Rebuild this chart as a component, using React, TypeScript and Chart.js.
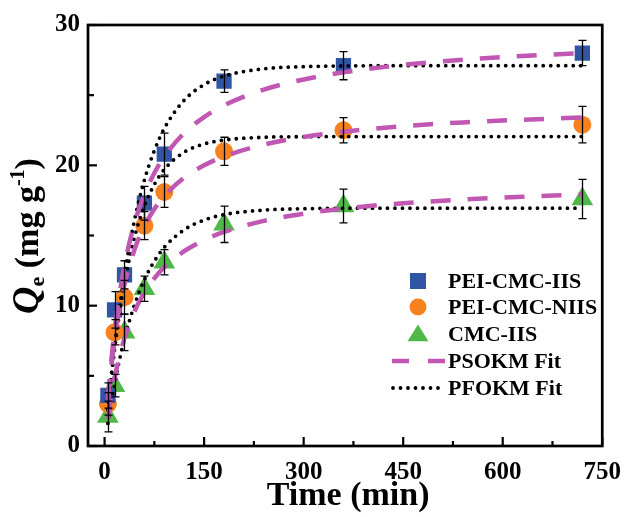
import React, { useEffect, useRef } from 'react';
import { Chart, registerables } from 'chart.js';

Chart.register(...registerables);

// ---- data ----
const times = [5, 15, 30, 60, 90, 180, 360, 720];
const peiIIS = [3.6, 9.7, 12.2, 17.3, 20.8, 26.0, 27.1, 28.0];
const peiIISErr = [0.9, 1.3, 1.0, 1.2, 1.5, 0.8, 1.0, 0.9];
const peiNIIS = [3.0, 8.1, 10.6, 15.7, 18.1, 21.0, 22.5, 22.9];
const peiNIISErr = [0.8, 0.9, 1.2, 1.0, 1.1, 1.0, 0.9, 1.3];
const cmcIIS = [2.1, 4.3, 8.1, 11.2, 13.1, 15.8, 17.1, 17.6];
const cmcIISErr = [1.1, 0.8, 1.3, 0.9, 0.9, 1.3, 1.2, 1.4];

const fitTimes = [5, 10, 15, 20, 30, 45, 60, 75, 90, 120, 150, 180, 240, 300, 360, 450, 540, 630, 720];
const psoIIS = [3.37, 6.05, 8.23, 10.04, 12.87, 15.85, 17.92, 19.45, 20.62, 22.3, 23.44, 24.27, 25.4, 26.12, 26.63, 27.16, 27.53, 27.79, 27.99];
const psoNIIS = [3.16, 5.6, 7.53, 9.11, 11.52, 13.99, 15.67, 16.89, 17.81, 19.12, 20.0, 20.63, 21.48, 22.02, 22.4, 22.79, 23.06, 23.25, 23.41];
const psoCMC = [1.93, 3.5, 4.81, 5.91, 7.68, 9.58, 10.94, 11.95, 12.74, 13.88, 14.67, 15.25, 16.04, 16.56, 16.92, 17.3, 17.56, 17.76, 17.92];
const pfoIIS = [2.58, 4.91, 7.02, 8.93, 12.23, 16.08, 18.95, 21.05, 22.63, 24.64, 25.75, 26.36, 26.88, 27.03, 27.08, 27.1, 27.1, 27.1, 27.1];
const pfoNIIS = [2.58, 4.86, 6.88, 8.64, 11.6, 14.86, 17.11, 18.64, 19.71, 20.94, 21.52, 21.8, 22.0, 22.04, 22.05, 22.05, 22.05, 22.05, 22.05];
const pfoCMC = [1.61, 3.07, 4.39, 5.59, 7.65, 10.05, 11.85, 13.17, 14.16, 15.41, 16.1, 16.49, 16.81, 16.91, 16.94, 16.95, 16.95, 16.95, 16.95];

const xTicks = [0, 150, 300, 450, 600, 750];
const xMinorTicks = [75, 225, 375, 525, 675];
const yTicks = [0, 10, 20, 30];
const yMinorTicks = [5, 15, 25];

const legendLabels = ['PEI-CMC-IIS', 'PEI-CMC-NIIS', 'CMC-IIS', 'PSOKM Fit', 'PFOKM Fit'];
const xTitle = 'Time (min)';

// ---- styles ----
const BLUE = '#2f55a4';
const ORANGE = '#f5821f';
const GREEN = '#4fb848';
const MAGENTA = '#c057b2';
const SERIF = '"Liberation Serif", "Times New Roman", serif';

const pts = (xs: number[], ys: number[]) => xs.map((x, i) => ({ x, y: ys[i] }));

const errSeries = [
  { v: peiIIS, e: peiIISErr },
  { v: peiNIIS, e: peiNIISErr },
  { v: cmcIIS, e: cmcIISErr },
];

function drawMarker(ctx: CanvasRenderingContext2D, kind: string, x: number, y: number, s: number, color: string) {
  ctx.fillStyle = color;
  ctx.beginPath();
  if (kind === 'rect') {
    ctx.rect(x - s / 2, y - s / 2, s, s);
  } else if (kind === 'circle') {
    ctx.arc(x, y, s / 2, 0, Math.PI * 2);
  } else {
    ctx.moveTo(x, y - s * 0.45);
    ctx.lineTo(x + s / 2, y + s * 0.35);
    ctx.lineTo(x - s / 2, y + s * 0.35);
    ctx.closePath();
  }
  ctx.fill();
}

const decorPlugin = {
  id: 'decor',
  afterDatasetsDraw(chart: any) {
    const { ctx, chartArea: a, scales } = chart;
    const xs = scales.x;
    const ys = scales.y;
    ctx.save();
    // error bars
    ctx.strokeStyle = '#000';
    ctx.lineWidth = 1.3;
    errSeries.forEach((s) => {
      s.v.forEach((v, i) => {
        const px = Math.round(xs.getPixelForValue(times[i])) + 0.5;
        const t = ys.getPixelForValue(v + s.e[i]);
        const b = ys.getPixelForValue(v - s.e[i]);
        ctx.beginPath();
        ctx.moveTo(px, t);
        ctx.lineTo(px, b);
        ctx.moveTo(px - 4, t);
        ctx.lineTo(px + 4, t);
        ctx.moveTo(px - 4, b);
        ctx.lineTo(px + 4, b);
        ctx.stroke();
      });
    });
    // frame
    ctx.lineWidth = 2.7;
    ctx.strokeStyle = '#000';
    ctx.strokeRect(a.left, a.top, a.right - a.left, a.bottom - a.top);
    // inward ticks
    ctx.lineWidth = 2.2;
    const tick = (vals: number[], len: number) => {
      vals.forEach((v) => {
        const px = xs.getPixelForValue(v);
        ctx.beginPath();
        ctx.moveTo(px, a.bottom);
        ctx.lineTo(px, a.bottom - len);
        ctx.stroke();
      });
    };
    const ytick = (vals: number[], len: number) => {
      vals.forEach((v) => {
        const py = ys.getPixelForValue(v);
        ctx.beginPath();
        ctx.moveTo(a.left, py);
        ctx.lineTo(a.left + len, py);
        ctx.stroke();
      });
    };
    tick(xTicks, 9);
    tick(xMinorTicks, 5);
    ytick(yTicks, 9);
    ytick(yMinorTicks, 6);

    // legend
    const rows = [281, 307, 334, 361, 388];
    const mx = 418;
    drawMarker(ctx, 'rect', mx, rows[0], 16, BLUE);
    drawMarker(ctx, 'circle', mx, rows[1], 17, ORANGE);
    drawMarker(ctx, 'tri', mx, rows[2], 21, GREEN);
    ctx.lineWidth = 4.5;
    ctx.strokeStyle = MAGENTA;
    ctx.setLineDash([17, 19]);
    ctx.beginPath();
    ctx.moveTo(392, rows[3]);
    ctx.lineTo(445, rows[3]);
    ctx.stroke();
    ctx.strokeStyle = '#000';
    ctx.lineWidth = 3.8;
    ctx.lineCap = 'round';
    ctx.setLineDash([0, 7.5]);
    ctx.beginPath();
    ctx.moveTo(393, rows[4]);
    ctx.lineTo(443, rows[4]);
    ctx.stroke();
    ctx.setLineDash([]);
    ctx.lineCap = 'butt';
    ctx.fillStyle = '#000';
    ctx.font = `bold 22px ${SERIF}`;
    ctx.textBaseline = 'middle';
    ctx.textAlign = 'left';
    legendLabels.forEach((l, i) => ctx.fillText(l, 448, rows[i] + 1));

    // x title
    ctx.font = `bold 34px ${SERIF}`;
    ctx.textAlign = 'center';
    ctx.textBaseline = 'alphabetic';
    ctx.fillText(xTitle, (a.left + a.right) / 2 + 3, 505);

    // y title (rotated)
    ctx.translate(38, 236);
    ctx.rotate(-Math.PI / 2);
    const parts = [
      { t: 'Q', f: `italic bold 38px ${SERIF}`, dy: 0 },
      { t: 'e', f: `bold 22px ${SERIF}`, dy: 6 },
      { t: ' (mg g', f: `bold 34px ${SERIF}`, dy: 0 },
      { t: '-1', f: `bold 20px ${SERIF}`, dy: -14 },
      { t: ')', f: `bold 34px ${SERIF}`, dy: 0 },
    ];
    let total = 0;
    parts.forEach((p) => {
      ctx.font = p.f;
      total += ctx.measureText(p.t).width;
    });
    let cx = -total / 2;
    ctx.textAlign = 'left';
    parts.forEach((p) => {
      ctx.font = p.f;
      ctx.fillText(p.t, cx, p.dy);
      cx += ctx.measureText(p.t).width;
    });
    ctx.restore();
  },
};

export default function App() {
  const ref = useRef<HTMLCanvasElement | null>(null);
  useEffect(() => {
    if (!ref.current) return;
    const lineBase = {
      showLine: true,
      pointRadius: 0,
      pointHoverRadius: 0,
      fill: false,
      cubicInterpolationMode: 'monotone' as const,
      order: 1,
    };
    const pso = { ...lineBase, borderColor: MAGENTA, borderWidth: 4.5, borderDash: [20, 17] };
    const pfo = { ...lineBase, borderColor: '#000', borderWidth: 3.8, borderDash: [0, 7.5], borderCapStyle: 'round' as const };
    const mark = (data: any, style: string, r: number, color: string) => ({
      data,
      pointStyle: style,
      pointRadius: r,
      pointHoverRadius: r,
      backgroundColor: color,
      borderColor: color,
      borderWidth: 0,
      showLine: false,
      order: 3,
    });
    const chart = new Chart(ref.current, {
      type: 'scatter',
      data: {
        datasets: [
          mark(pts(times, peiIIS), 'rect', 10.8, BLUE),
          mark(pts(times, peiNIIS), 'circle', 9, ORANGE),
          mark(pts(times, cmcIIS), 'triangle', 12.5, GREEN),
          { ...pso, data: pts(fitTimes, psoIIS) },
          { ...pso, data: pts(fitTimes, psoNIIS) },
          { ...pso, data: pts(fitTimes, psoCMC) },
          { ...pfo, data: pts(fitTimes, pfoIIS) },
          { ...pfo, data: pts(fitTimes, pfoNIIS) },
          { ...pfo, data: pts(fitTimes, pfoCMC) },
        ] as any,
      },
      options: {
        responsive: false,
        animation: false,
        events: [],
        layout: { padding: { top: 25, right: 20, left: 0, bottom: 0 } },
        plugins: { legend: { display: false }, tooltip: { enabled: false } },
        scales: {
          x: {
            type: 'linear',
            min: -25,
            max: 750,
            grid: { display: false, drawTicks: false },
            border: { display: false },
            ticks: {
              color: '#000',
              padding: 12,
              maxRotation: 0,
              font: { family: SERIF, size: 25, weight: 'bold' },
            },
            afterBuildTicks: (s: any) => {
              s.ticks = xTicks.map((v) => ({ value: v }));
            },
            afterFit: (s: any) => {
              s.height = 71;
            },
          },
          y: {
            type: 'linear',
            min: 0,
            max: 30,
            grid: { display: false, drawTicks: false },
            border: { display: false },
            ticks: {
              color: '#000',
              padding: 8,
              font: { family: SERIF, size: 25, weight: 'bold' },
            },
            afterBuildTicks: (s: any) => {
              s.ticks = yTicks.map((v) => ({ value: v }));
            },
            afterFit: (s: any) => {
              s.width = 88;
            },
          },
        },
      } as any,
      plugins: [decorPlugin],
    });
    return () => chart.destroy();
  }, []);
  return (
    <div style={{ position: 'absolute', left: 0, top: 0, width: 633, height: 517, background: '#fff' }}>
      <canvas ref={ref} width={633} height={517} style={{ display: 'block' }} />
    </div>
  );
}
